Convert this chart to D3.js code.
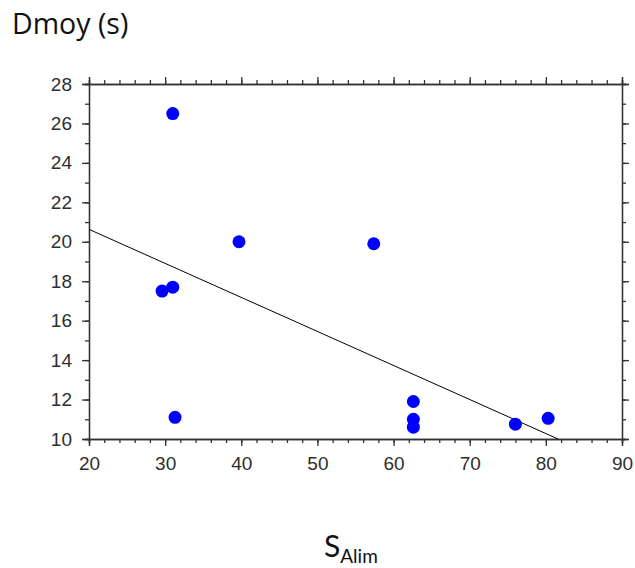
<!DOCTYPE html>
<html>
<head>
<meta charset="utf-8">
<script src="https://cdn.jsdelivr.net/npm/d3@7"></script>
<style>
  body { margin: 0; background: #fff; }
</style>
</head>
<body>
<svg id="chart"></svg>
<script>
// points
var sAlim = [31.0, 39.7, 57.4, 29.6, 31.0, 31.3, 62.6, 62.6, 62.6, 76.0, 80.3];
var dMoy  = [26.5, 20.0, 19.9, 17.5, 17.7, 11.1, 11.9, 11.0, 10.6, 10.75, 11.05];

// fitted line end points
var lineX = [20, 81.6];
var lineY = [20.63, 10];

var xTicks = [20, 30, 40, 50, 60, 70, 80, 90];
var yTicks = [10, 12, 14, 16, 18, 20, 22, 24, 26, 28];

var margin = {top: 84, right: 13, bottom: 129, left: 89}
  , width = 635 - margin.left - margin.right
  , height = 568 - margin.top - margin.bottom;

var svg = d3.select("#chart")
    .attr("width", 635)
    .attr("height", 568);

var g = svg.append("g")
    .attr("transform", "translate(" + margin.left + "," + margin.top + ")");

var xScale = d3.scaleLinear().domain([20, 90]).range([0, width]);
var yScale = d3.scaleLinear().domain([10, 28]).range([height, 0]);

var axisColor = "#333";

function styleAxis(sel){
    sel.attr("font-family", "Liberation Sans, Arial, sans-serif").attr("font-size", 19);
    sel.selectAll("path, line").attr("stroke", axisColor).attr("stroke-width", 1.3);
    sel.selectAll("text").attr("fill", "#2e2e2e");
}

// minor ticks first, then major
g.append("g")
    .attr("transform", "translate(0," + height + ")")
    .call(d3.axisBottom(xScale).tickValues(d3.range(20, 91, 2)).tickSize(4).tickFormat(""))
    .call(styleAxis);
g.append("g")
    .attr("transform", "translate(0," + height + ")")
    .call(d3.axisBottom(xScale).tickValues(xTicks).tickSize(7).tickPadding(11).tickFormat(d3.format("d")))
    .call(styleAxis);

g.append("g")
    .call(d3.axisTop(xScale).tickValues(d3.range(20, 91, 2)).tickSize(4).tickFormat(""))
    .call(styleAxis);
g.append("g")
    .call(d3.axisTop(xScale).tickValues(xTicks).tickSize(7).tickFormat(""))
    .call(styleAxis);

g.append("g")
    .call(d3.axisLeft(yScale).tickValues(d3.range(10, 29, 1)).tickSize(4).tickFormat(""))
    .call(styleAxis);
g.append("g")
    .call(d3.axisLeft(yScale).tickValues(yTicks).tickSize(7).tickPadding(10).tickFormat(d3.format("d")))
    .call(styleAxis);

g.append("g")
    .attr("transform", "translate(" + width + ",0)")
    .call(d3.axisRight(yScale).tickValues(d3.range(10, 29, 1)).tickSize(4).tickFormat(""))
    .call(styleAxis);
g.append("g")
    .attr("transform", "translate(" + width + ",0)")
    .call(d3.axisRight(yScale).tickValues(yTicks).tickSize(7).tickFormat(""))
    .call(styleAxis);

// regression line
var line = d3.line()
    .x(function(d){ return xScale(d[0]); })
    .y(function(d){ return yScale(d[1]); });

g.append("path")
    .datum(d3.zip(lineX, lineY))
    .attr("d", line)
    .attr("fill", "none")
    .attr("stroke", "#000")
    .attr("stroke-width", 1);

g.selectAll("circle")
    .data(d3.zip(sAlim, dMoy))
    .enter().append("circle")
    .attr("cx", function(d){ return xScale(d[0]); })
    .attr("cy", function(d){ return yScale(d[1]); })
    .attr("r", 6.5)
    .attr("fill", "#0000ff");

// titles
svg.append("text")
    .attr("x", 12)
    .attr("y", 34)
    .style("font-family", "'Open Sans', sans-serif")
    .style("font-size", "28.5px")
    .attr("fill", "#111")
    .text("Dmoy (s)");

var xt = svg.append("text")
    .attr("x", 324)
    .attr("y", 557)
    .style("font-family", "Lato, 'Open Sans', sans-serif")
    .attr("fill", "#111");
xt.append("tspan").style("font-size", "30px").text("S");
xt.append("tspan").attr("dy", 6).style("font-size", "19px").text("Alim");
</script>
</body>
</html>
